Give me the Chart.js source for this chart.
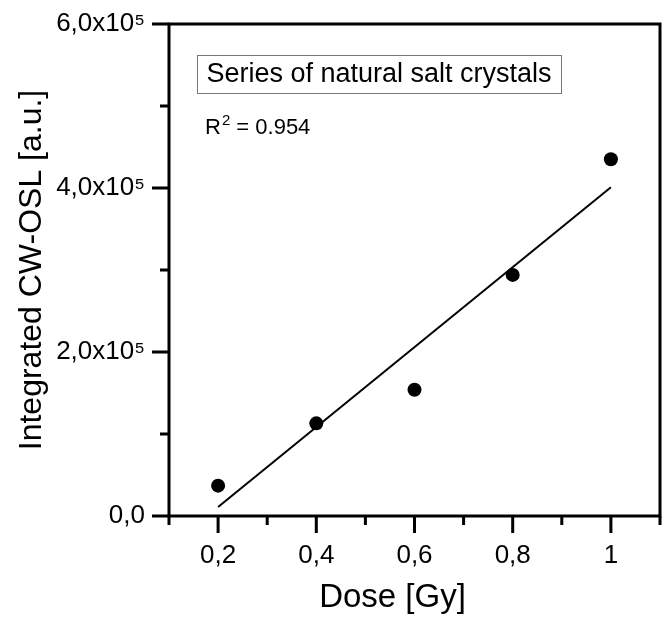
<!DOCTYPE html>
<html>
<head>
<meta charset="utf-8">
<script src="https://cdn.jsdelivr.net/npm/chart.js@4.4.0/dist/chart.umd.min.js"></script>
<style>
  html, body { margin:0; padding:0; background:#fff; }
  #wrap { width:667px; height:618px; }
</style>
</head>
<body>
<div id="wrap"><canvas id="chart" width="667" height="618"></canvas></div>
<script>
// ---------------------------
// DATA
// ---------------------------
const doseGy = [0.2, 0.4, 0.6, 0.8, 1.0];
const oslCounts = [37000, 113000, 154000, 294000, 435000];
const fitDose = [0.2, 1.0];
const fitCounts = [11000, 401000];
const xTickValues = [0.2, 0.4, 0.6, 0.8, 1.0];
const xTickLabels = ["0,2", "0,4", "0,6", "0,8", "1"];
const yTickValues = [0, 200000, 400000, 600000];
const yTickLabels = ["0,0", "2,0x10⁵", "4,0x10⁵", "6,0x10⁵"];
const xTitle = "Dose [Gy]";
const yTitle = "Integrated CW-OSL [a.u.]";
const seriesName = "Series of natural salt crystals";
const rSquared = "0.954";

const FONT = '"Liberation Sans", Arial, sans-serif';

// ---------------------------
// HELPERS
// ---------------------------
function labelFor(values, labels, v){
  const i = values.findIndex(t => Math.abs(t - v) < 1e-6 * Math.max(1, Math.abs(t)));
  return i < 0 ? "" : labels[i];
}

// frame, outward major/minor ticks, x title, boxed series label and R² note
const frameAndNotes = {
  id: "frameAndNotes",
  afterDraw(chart){
    const { ctx, chartArea:a, scales:{ x, y } } = chart;
    ctx.save();
    ctx.strokeStyle = "#000";
    ctx.lineWidth = 3;
    ctx.strokeRect(a.left, a.top, a.right - a.left, a.bottom - a.top);

    ctx.beginPath();
    x.ticks.forEach(t => {
      const px = x.getPixelForValue(t.value);
      const len = labelFor(xTickValues, xTickLabels, t.value) ? 17 : 9;
      ctx.moveTo(px, a.bottom);
      ctx.lineTo(px, a.bottom + len);
    });
    y.ticks.forEach(t => {
      const py = y.getPixelForValue(t.value);
      const len = labelFor(yTickValues, yTickLabels, t.value) ? 17 : 9;
      ctx.moveTo(a.left, py);
      ctx.lineTo(a.left - len, py);
    });
    ctx.stroke();

    ctx.fillStyle = "#000";

    // x title sits a little left of the axis centre
    ctx.font = "33px " + FONT;
    ctx.textAlign = "center";
    ctx.textBaseline = "middle";
    ctx.fillText(xTitle, (a.left + a.right) / 2 - 22, a.bottom + 82);

    // series label box
    const bx = a.left + 28, by = a.top + 31, bw = 364, bh = 38;
    ctx.lineWidth = 1;
    ctx.strokeStyle = "#777";
    ctx.strokeRect(bx + 0.5, by + 0.5, bw, bh);
    ctx.font = "27px " + FONT;
    ctx.fillText(seriesName, bx + bw / 2, by + bh / 2 + 1);

    // R² note
    ctx.textAlign = "left";
    ctx.textBaseline = "alphabetic";
    let tx = a.left + 36;
    const base = a.top + 110;
    ctx.font = "22px " + FONT;
    ctx.fillText("R", tx, base);
    tx += ctx.measureText("R").width + 1;
    ctx.font = "15px " + FONT;
    ctx.fillText("2", tx, base - 9);
    tx += ctx.measureText("2").width;
    ctx.font = "22px " + FONT;
    ctx.fillText(" = " + rSquared, tx, base);
    ctx.restore();
  }
};

// ---------------------------
// CHART
// ---------------------------
new Chart(document.getElementById("chart"), {
  type: "scatter",
  data: {
    datasets: [
      {
        label: seriesName,
        data: doseGy.map((d, i) => ({ x:d, y:oslCounts[i] })),
        pointRadius: 7,
        pointBackgroundColor: "#000",
        pointBorderColor: "#000",
        pointBorderWidth: 0,
        order: 1
      },
      {
        label: "Linear fit",
        data: fitDose.map((d, i) => ({ x:d, y:fitCounts[i] })),
        showLine: true,
        borderColor: "#000",
        borderWidth: 2,
        pointRadius: 0,
        fill: false,
        order: 2
      }
    ]
  },
  options: {
    responsive: false,
    animation: false,
    layout: { padding: { top:24, right:4, left:0, bottom:0 } },
    plugins: { legend:{ display:false }, tooltip:{ enabled:false } },
    scales: {
      x: {
        type: "linear", min: 0.1, max: 1.1,
        afterFit: s => { s.height = 102; s.paddingLeft = 0; s.paddingRight = 0; },
        ticks: {
          stepSize: 0.1, autoSkip: false, maxRotation: 0, padding: 24,
          color: "#000", font: { family: FONT, size: 26 },
          callback: v => labelFor(xTickValues, xTickLabels, v)
        },
        grid: { display:false, drawTicks:false },
        border: { display:false },
        title: { display:false }
      },
      y: {
        type: "linear", min: 0, max: 600000,
        afterFit: s => { s.width = 169; s.paddingTop = 0; s.paddingBottom = 0; },
        ticks: {
          stepSize: 100000, autoSkip: false, padding: 24,
          color: "#000", font: { family: FONT, size: 26 },
          callback: v => labelFor(yTickValues, yTickLabels, v)
        },
        grid: { display:false, drawTicks:false },
        border: { display:false },
        title: {
          display: true, text: yTitle, color: "#000",
          font: { family: FONT, size: 32 }, padding: { top:13, bottom:0 }
        }
      }
    }
  },
  plugins: [frameAndNotes]
});
</script>
</body>
</html>
